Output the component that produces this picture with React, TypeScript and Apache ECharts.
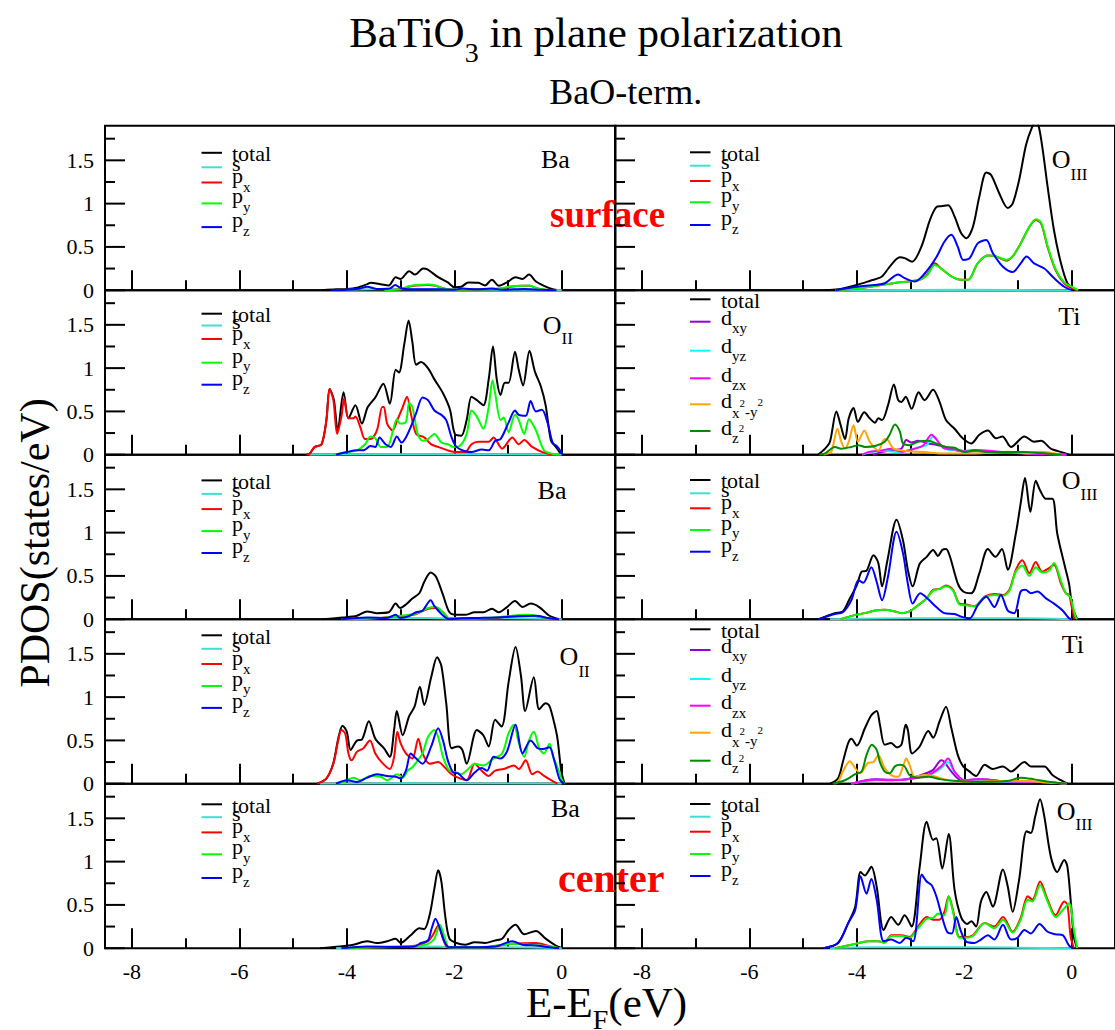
import React, { useEffect, useRef } from "react";
import * as echarts from "echarts";

// ---- axis ticks ----
const X_MIN = -8.5;
const X_MAJOR = [-8, -6, -4, -2, 0];
const X_MINOR = [-7, -5, -3, -1];
const Y_MAJOR = [0, 0.5, 1, 1.5];
const Y_MINOR = [0.25, 0.75, 1.25, 1.75];

// ---- PDOS data: [E - E_F (eV), states/eV] ----
// Ba, surface layer
const baS_total = [[-4.45,0],[-4.2,0.01],[-4.0,0.015],[-3.81,0.03],[-3.62,0.07],[-3.56,0.085],[-3.37,0.07],[-3.22,0.055],[-3.09,0.15],[-3.0,0.13],[-2.84,0.22],[-2.73,0.18],[-2.58,0.25],[-2.5,0.24],[-2.3,0.15],[-2.12,0.09],[-2.0,0.035],[-1.87,0.04],[-1.74,0.09],[-1.55,0.085],[-1.43,0.055],[-1.3,0.12],[-1.17,0.05],[-1.02,0.09],[-0.86,0.15],[-0.73,0.13],[-0.61,0.18],[-0.48,0.1],[-0.33,0.05],[-0.17,0.01],[-0.05,0]];
const baS_s = [[-4.2,0],[-3.5,0.01],[-2.5,0.01],[-1.5,0.005],[-0.5,0.005],[0,0]];
const baS_px = [[-3.3,0],[-3.0,0.01],[-2.85,0.04],[-2.7,0.055],[-2.5,0.06],[-2.35,0.05],[-2.2,0.02],[-2.0,0.005],[-1.5,0.01],[-1.1,0.02],[-0.95,0.04],[-0.75,0.05],[-0.6,0.05],[-0.45,0.02],[-0.3,0.005],[-0.1,0]];
const baS_py = [[-3.3,0],[-3.0,0.01],[-2.85,0.045],[-2.7,0.06],[-2.5,0.065],[-2.35,0.055],[-2.2,0.02],[-2.0,0.005],[-1.5,0.01],[-1.1,0.025],[-0.95,0.045],[-0.75,0.05],[-0.6,0.055],[-0.45,0.02],[-0.3,0.005],[-0.1,0]];
const baS_pz = [[-4.3,0],[-4.0,0.005],[-3.75,0.02],[-3.62,0.04],[-3.45,0.015],[-3.2,0.02],[-3.1,0.06],[-2.98,0.02],[-2.7,0.01],[-2.3,0.01],[-2.0,0.005],[-1.85,0.02],[-1.6,0.01],[-1.3,0.02],[-1.1,0.005],[-0.7,0.015],[-0.4,0.005],[-0.1,0]];

// O_III, surface layer
const o3S_total = [[-4.6,0],[-4.34,0.01],[-4.0,0.06],[-3.75,0.11],[-3.54,0.155],[-3.39,0.27],[-3.2,0.38],[-3.11,0.37],[-2.97,0.33],[-2.8,0.5],[-2.64,0.81],[-2.52,0.96],[-2.43,0.97],[-2.3,0.98],[-2.18,0.85],[-2.06,0.66],[-1.96,0.6],[-1.84,0.73],[-1.72,1.08],[-1.59,1.36],[-1.5,1.33],[-1.35,1.12],[-1.19,0.95],[-1.1,1.0],[-0.98,1.27],[-0.85,1.68],[-0.74,1.88],[-0.67,1.95],[-0.61,1.88],[-0.54,1.62],[-0.45,1.2],[-0.33,0.69],[-0.2,0.31],[-0.08,0.08],[0.04,0.02],[0.12,0]];
const o3S_s = [[-4.4,0],[-2,0.005],[0,0]];
const o3S_px = [[-4.4,0],[-4.0,0.02],[-3.54,0.06],[-3.23,0.09],[-2.83,0.12],[-2.68,0.19],[-2.55,0.31],[-2.43,0.25],[-2.24,0.16],[-2.06,0.12],[-1.93,0.12],[-1.75,0.31],[-1.56,0.4],[-1.41,0.39],[-1.22,0.34],[-1.1,0.39],[-0.95,0.54],[-0.79,0.73],[-0.67,0.81],[-0.57,0.77],[-0.45,0.5],[-0.3,0.23],[-0.14,0.08],[0.01,0.02],[0.1,0]];
const o3S_py = [[-4.4,0],[-4.0,0.02],[-3.54,0.06],[-3.23,0.09],[-2.83,0.12],[-2.68,0.18],[-2.55,0.29],[-2.43,0.25],[-2.24,0.16],[-2.06,0.12],[-1.93,0.12],[-1.75,0.31],[-1.56,0.4],[-1.41,0.39],[-1.22,0.35],[-1.1,0.39],[-0.95,0.54],[-0.79,0.73],[-0.67,0.82],[-0.57,0.78],[-0.45,0.51],[-0.3,0.24],[-0.14,0.09],[0.03,0.03],[0.12,0]];
const o3S_pz = [[-4.4,0],[-4.0,0.04],[-3.66,0.06],[-3.48,0.08],[-3.23,0.18],[-3.11,0.14],[-2.92,0.1],[-2.74,0.19],[-2.52,0.38],[-2.37,0.56],[-2.24,0.64],[-2.12,0.5],[-2.02,0.35],[-1.9,0.37],[-1.75,0.54],[-1.59,0.58],[-1.47,0.43],[-1.28,0.27],[-1.1,0.21],[-0.95,0.31],[-0.84,0.39],[-0.7,0.31],[-0.51,0.25],[-0.33,0.14],[-0.14,0.04],[0.01,0]];

// O_II, subsurface layer
const o2S_total = [[-4.75,0],[-4.69,0.01],[-4.6,0.09],[-4.47,0.12],[-4.38,0.4],[-4.32,0.76],[-4.24,0.63],[-4.17,0.28],[-4.06,0.72],[-3.97,0.42],[-3.84,0.57],[-3.72,0.36],[-3.61,0.55],[-3.47,0.66],[-3.32,0.82],[-3.2,0.59],[-3.09,0.98],[-3.03,0.95],[-2.93,1.28],[-2.85,1.55],[-2.78,1.3],[-2.71,1.04],[-2.62,1.07],[-2.49,1.0],[-2.37,0.87],[-2.21,0.71],[-2.08,0.52],[-1.99,0.24],[-1.87,0.22],[-1.77,0.4],[-1.68,0.67],[-1.58,0.63],[-1.46,0.57],[-1.36,0.87],[-1.28,1.25],[-1.21,0.87],[-1.14,0.69],[-1.06,0.83],[-0.99,0.83],[-0.87,1.19],[-0.8,0.98],[-0.72,0.8],[-0.6,1.2],[-0.5,0.96],[-0.39,0.79],[-0.3,0.57],[-0.2,0.16],[-0.11,0.09],[-0.01,0]];
const o2S_s = [[-4.7,0],[-3,0.005],[0,0]];
const o2S_px = [[-4.75,0],[-4.69,0.01],[-4.6,0.09],[-4.47,0.12],[-4.38,0.4],[-4.32,0.76],[-4.25,0.63],[-4.18,0.24],[-4.1,0.44],[-4.05,0.65],[-3.97,0.42],[-3.88,0.42],[-3.84,0.44],[-3.75,0.32],[-3.66,0.18],[-3.56,0.18],[-3.44,0.28],[-3.34,0.55],[-3.31,0.55],[-3.25,0.36],[-3.15,0.28],[-3.06,0.4],[-2.96,0.55],[-2.88,0.67],[-2.81,0.48],[-2.71,0.24],[-2.56,0.2],[-2.43,0.12],[-2.3,0.09],[-2.12,0.05],[-1.96,0.03],[-1.8,0.03],[-1.68,0.12],[-1.55,0.15],[-1.36,0.15],[-1.27,0.2],[-1.11,0.07],[-0.92,0.2],[-0.8,0.12],[-0.7,0.17],[-0.55,0.09],[-0.36,0.03],[-0.17,0]];
const o2S_py = [[-4.25,0],[-4.0,0.03],[-3.81,0.05],[-3.66,0.12],[-3.56,0.21],[-3.47,0.19],[-3.37,0.09],[-3.25,0.09],[-3.14,0.28],[-3.07,0.41],[-3.01,0.36],[-2.9,0.38],[-2.84,0.6],[-2.78,0.55],[-2.68,0.24],[-2.59,0.16],[-2.49,0.18],[-2.37,0.24],[-2.24,0.14],[-2.12,0.12],[-2.02,0.09],[-1.9,0.1],[-1.77,0.24],[-1.68,0.51],[-1.58,0.44],[-1.46,0.3],[-1.36,0.55],[-1.29,0.86],[-1.24,0.71],[-1.14,0.4],[-1.08,0.43],[-0.99,0.26],[-0.87,0.46],[-0.8,0.4],[-0.7,0.24],[-0.61,0.41],[-0.48,0.28],[-0.33,0.05],[-0.17,0.01],[-0.04,0]];
const o2S_pz = [[-4.2,0],[-4.0,0.03],[-3.81,0.05],[-3.69,0.05],[-3.56,0.1],[-3.47,0.09],[-3.39,0.2],[-3.28,0.12],[-3.18,0.09],[-3.07,0.21],[-2.98,0.14],[-2.9,0.2],[-2.81,0.32],[-2.71,0.48],[-2.59,0.66],[-2.49,0.63],[-2.37,0.51],[-2.24,0.46],[-2.15,0.4],[-2.05,0.2],[-1.96,0.09],[-1.8,0.04],[-1.68,0.03],[-1.49,0.06],[-1.36,0.05],[-1.24,0.16],[-1.14,0.18],[-0.99,0.37],[-0.87,0.51],[-0.8,0.46],[-0.67,0.45],[-0.58,0.62],[-0.48,0.5],[-0.37,0.52],[-0.26,0.36],[-0.17,0.14],[-0.08,0.09],[0.02,0]];

// Ti, subsurface layer
const tiS_total = [[-4.72,0],[-4.59,0.07],[-4.5,0.15],[-4.38,0.5],[-4.3,0.34],[-4.22,0.18],[-4.15,0.42],[-4.06,0.54],[-3.98,0.38],[-3.86,0.49],[-3.76,0.42],[-3.66,0.37],[-3.6,0.42],[-3.53,0.4],[-3.42,0.57],[-3.31,0.81],[-3.23,0.63],[-3.17,0.61],[-3.09,0.67],[-2.98,0.53],[-2.85,0.72],[-2.74,0.63],[-2.58,0.75],[-2.46,0.61],[-2.34,0.4],[-2.18,0.3],[-2.03,0.19],[-1.87,0.13],[-1.72,0.23],[-1.56,0.28],[-1.41,0.19],[-1.29,0.21],[-1.13,0.09],[-0.88,0.21],[-0.7,0.15],[-0.57,0.16],[-0.39,0.07],[-0.14,0.02],[-0.05,0]];
const tiS_dxy = [[-3.7,0],[-3.54,0.03],[-3.36,0.05],[-3.17,0.07],[-3.08,0.17],[-2.98,0.14],[-2.86,0.16],[-2.67,0.13],[-2.49,0.11],[-2.3,0.08],[-2.06,0.04],[-1.81,0.05],[-1.5,0.03],[-1.0,0.02],[-0.5,0.01],[-0.1,0]];
const tiS_dyz = [[-3.9,0],[-3.73,0.03],[-3.48,0.045],[-3.23,0.03],[-3.05,0.05],[-2.83,0.09],[-2.7,0.11],[-2.58,0.21],[-2.49,0.15],[-2.37,0.07],[-2.18,0.05],[-1.81,0.04],[-1.19,0.03],[-0.6,0.01],[-0.1,0]];
const tiS_dzx = [[-3.9,0],[-3.79,0.03],[-3.54,0.05],[-3.36,0.07],[-3.17,0.035],[-2.92,0.07],[-2.76,0.11],[-2.61,0.23],[-2.52,0.18],[-2.39,0.08],[-2.18,0.06],[-1.93,0.035],[-1.69,0.05],[-1.3,0.03],[-0.7,0.01],[-0.1,0]];
const tiS_dx2y2 = [[-4.62,0],[-4.53,0.015],[-4.47,0.035],[-4.36,0.3],[-4.29,0.15],[-4.22,0.07],[-4.15,0.15],[-4.06,0.34],[-3.98,0.15],[-3.86,0.28],[-3.76,0.15],[-3.6,0.05],[-3.48,0.18],[-3.42,0.17],[-3.32,0.07],[-3.17,0.05],[-3.05,0.04],[-2.74,0.03],[-2.43,0.015],[-1.81,0.015],[-1.19,0.035],[-0.82,0.015],[-0.57,0.035],[-0.2,0]];
const tiS_dz2 = [[-4.7,0],[-4.59,0.015],[-4.41,0.09],[-4.29,0.07],[-4.1,0.09],[-3.97,0.11],[-3.85,0.09],[-3.66,0.1],[-3.48,0.15],[-3.39,0.23],[-3.29,0.35],[-3.2,0.27],[-3.14,0.13],[-3.02,0.11],[-2.86,0.15],[-2.67,0.16],[-2.49,0.12],[-2.34,0.09],[-2.18,0.08],[-2.0,0.03],[-1.81,0.05],[-1.56,0.03],[-1.19,0.03],[-0.88,0.03],[-0.57,0.02],[-0.2,0]];

// Ba, middle layer
const baM_total = [[-4.45,0],[-4.06,0.02],[-3.81,0.04],[-3.62,0.09],[-3.44,0.07],[-3.22,0.08],[-3.09,0.18],[-3.01,0.13],[-2.9,0.17],[-2.78,0.24],[-2.65,0.3],[-2.56,0.43],[-2.44,0.54],[-2.34,0.49],[-2.21,0.28],[-2.09,0.08],[-1.96,0.05],[-1.8,0.05],[-1.62,0.08],[-1.46,0.08],[-1.3,0.12],[-1.17,0.08],[-1.02,0.14],[-0.87,0.21],[-0.73,0.14],[-0.58,0.18],[-0.42,0.14],[-0.23,0.04],[-0.04,0]];
const baM_s = [[-4.1,0],[-3.5,0.015],[-2.5,0.015],[-2.0,0.005],[-1,0.01],[0,0]];
const baM_px = [[-4.0,0],[-3.37,0.015],[-3.09,0.035],[-2.9,0.04],[-2.71,0.06],[-2.49,0.12],[-2.34,0.13],[-2.21,0.08],[-2.09,0.01],[-1.87,0.01],[-1.24,0.015],[-0.92,0.035],[-0.61,0.045],[-0.36,0.02],[-0.1,0]];
const baM_py = [[-4.0,0],[-3.37,0.015],[-3.09,0.035],[-2.9,0.045],[-2.71,0.065],[-2.49,0.13],[-2.34,0.14],[-2.21,0.08],[-2.09,0.01],[-1.87,0.01],[-1.24,0.02],[-0.92,0.04],[-0.61,0.05],[-0.36,0.02],[-0.1,0]];
const baM_pz = [[-4.1,0],[-3.62,0.02],[-3.25,0.015],[-3.09,0.05],[-3.01,0.015],[-2.87,0.03],[-2.71,0.08],[-2.59,0.1],[-2.44,0.22],[-2.37,0.15],[-2.24,0.06],[-2.09,0],[-1.87,0.01],[-1.55,0.015],[-1.24,0.02],[-0.92,0.03],[-0.48,0.04],[-0.23,0.01],[-0.05,0]];

// O_III, middle layer
const o3M_total = [[-4.71,0],[-4.41,0.07],[-4.26,0.09],[-4.13,0.24],[-4.0,0.39],[-3.91,0.55],[-3.82,0.56],[-3.69,0.74],[-3.6,0.65],[-3.53,0.38],[-3.43,0.68],[-3.26,1.15],[-3.14,0.91],[-3.05,0.57],[-2.96,0.38],[-2.83,0.64],[-2.7,0.72],[-2.58,0.8],[-2.49,0.73],[-2.41,0.8],[-2.34,0.81],[-2.27,0.73],[-2.12,0.41],[-2.02,0.32],[-1.87,0.3],[-1.72,0.53],[-1.56,0.81],[-1.42,0.72],[-1.3,0.81],[-1.19,0.57],[-1.04,0.99],[-0.95,1.34],[-0.87,1.63],[-0.77,1.24],[-0.67,1.6],[-0.59,1.49],[-0.48,1.39],[-0.36,1.39],[-0.27,0.99],[-0.14,0.64],[-0.05,0.41],[0.01,0.14],[0.1,0]];
const o3M_s = [[-4.5,0],[-3,0.01],[-1,0.01],[0,0]];
const o3M_px = [[-4.3,0],[-4.03,0.05],[-3.85,0.07],[-3.66,0.1],[-3.48,0.11],[-3.29,0.09],[-3.17,0.07],[-3.02,0.09],[-2.86,0.16],[-2.7,0.24],[-2.58,0.34],[-2.46,0.35],[-2.34,0.39],[-2.21,0.34],[-2.09,0.18],[-1.97,0.17],[-1.81,0.15],[-1.62,0.26],[-1.44,0.29],[-1.28,0.28],[-1.16,0.34],[-1.04,0.57],[-0.92,0.68],[-0.79,0.53],[-0.67,0.66],[-0.55,0.55],[-0.42,0.59],[-0.33,0.63],[-0.2,0.41],[-0.11,0.3],[-0.05,0.28],[0.0,0.14],[0.05,0]];
const o3M_py = [[-4.3,0],[-4.03,0.05],[-3.85,0.07],[-3.66,0.1],[-3.48,0.11],[-3.29,0.09],[-3.17,0.07],[-3.02,0.09],[-2.86,0.16],[-2.7,0.24],[-2.58,0.33],[-2.46,0.35],[-2.34,0.38],[-2.21,0.33],[-2.09,0.17],[-1.97,0.16],[-1.81,0.15],[-1.62,0.25],[-1.44,0.28],[-1.28,0.27],[-1.16,0.33],[-1.04,0.55],[-0.92,0.62],[-0.79,0.5],[-0.67,0.6],[-0.55,0.54],[-0.42,0.56],[-0.33,0.65],[-0.2,0.44],[-0.11,0.3],[-0.03,0.26],[0.01,0.18],[0.07,0.03],[0.1,0]];
const o3M_pz = [[-4.71,0],[-4.41,0.06],[-4.26,0.08],[-4.1,0.22],[-3.97,0.45],[-3.88,0.42],[-3.73,0.6],[-3.63,0.43],[-3.53,0.22],[-3.42,0.49],[-3.26,1.01],[-3.14,0.76],[-3.05,0.41],[-2.96,0.18],[-2.82,0.3],[-2.67,0.23],[-2.52,0.14],[-2.37,0.07],[-2.18,0.06],[-2.06,0.03],[-1.9,0.01],[-1.75,0.16],[-1.59,0.26],[-1.44,0.14],[-1.32,0.28],[-1.19,0.1],[-1.07,0.07],[-0.95,0.32],[-0.86,0.34],[-0.76,0.3],[-0.64,0.32],[-0.48,0.24],[-0.33,0.18],[-0.17,0.1],[-0.05,0.01],[0.0,0]];

// O_II, middle layer
const o2M_total = [[-4.55,0],[-4.38,0.06],[-4.25,0.24],[-4.16,0.52],[-4.08,0.67],[-4.0,0.6],[-3.93,0.39],[-3.81,0.5],[-3.72,0.51],[-3.59,0.72],[-3.47,0.52],[-3.31,0.41],[-3.2,0.31],[-3.12,0.62],[-3.07,0.84],[-2.96,0.56],[-2.84,0.78],[-2.74,0.89],[-2.64,1.12],[-2.56,0.91],[-2.43,1.23],[-2.32,1.46],[-2.24,1.36],[-2.15,0.93],[-2.05,0.41],[-1.93,0.43],[-1.85,0.39],[-1.77,0.23],[-1.58,0.62],[-1.46,0.56],[-1.36,0.43],[-1.24,0.74],[-1.12,0.66],[-0.99,1.17],[-0.86,1.58],[-0.76,1.25],[-0.68,0.84],[-0.52,1.23],[-0.42,0.86],[-0.3,0.93],[-0.23,0.9],[-0.14,0.7],[-0.08,0.52],[-0.01,0.15],[0.05,0]];
const o2M_s = [[-4.5,0],[-3,0.005],[0,0]];
const o2M_px = [[-4.55,0],[-4.38,0.06],[-4.25,0.23],[-4.16,0.5],[-4.1,0.62],[-4.03,0.58],[-3.97,0.35],[-3.91,0.27],[-3.81,0.37],[-3.69,0.41],[-3.57,0.5],[-3.47,0.35],[-3.34,0.24],[-3.2,0.17],[-3.12,0.31],[-3.06,0.6],[-3.0,0.47],[-2.9,0.35],[-2.78,0.29],[-2.67,0.52],[-2.59,0.35],[-2.46,0.23],[-2.3,0.25],[-2.18,0.19],[-2.05,0.11],[-1.93,0.07],[-1.77,0.04],[-1.62,0.23],[-1.49,0.15],[-1.36,0.09],[-1.24,0.15],[-1.08,0.17],[-0.89,0.21],[-0.8,0.17],[-0.67,0.27],[-0.55,0.11],[-0.45,0.14],[-0.33,0.09],[-0.2,0.04],[-0.08,0]];
const o2M_py = [[-4.2,0],[-4.0,0.04],[-3.88,0.07],[-3.75,0.04],[-3.56,0.09],[-3.37,0.08],[-3.25,0.04],[-3.06,0.11],[-2.96,0.07],[-2.87,0.15],[-2.78,0.19],[-2.68,0.27],[-2.59,0.35],[-2.49,0.54],[-2.37,0.62],[-2.3,0.54],[-2.21,0.31],[-2.09,0.15],[-1.96,0.13],[-1.87,0.11],[-1.74,0.17],[-1.62,0.23],[-1.46,0.21],[-1.27,0.29],[-1.11,0.35],[-0.99,0.58],[-0.89,0.68],[-0.8,0.47],[-0.7,0.31],[-0.61,0.5],[-0.52,0.6],[-0.42,0.41],[-0.33,0.35],[-0.23,0.46],[-0.16,0.31],[-0.08,0.19],[0.02,0.02],[0.06,0]];
const o2M_pz = [[-4.2,0],[-4.0,0.04],[-3.81,0.02],[-3.62,0.07],[-3.44,0.11],[-3.25,0.09],[-3.09,0.08],[-3.0,0.06],[-2.9,0.15],[-2.81,0.35],[-2.71,0.29],[-2.59,0.23],[-2.43,0.43],[-2.3,0.64],[-2.21,0.5],[-2.12,0.27],[-2.02,0.13],[-1.93,0.12],[-1.77,0.04],[-1.62,0.13],[-1.49,0.18],[-1.39,0.15],[-1.27,0.31],[-1.14,0.29],[-1.02,0.37],[-0.86,0.68],[-0.73,0.35],[-0.58,0.5],[-0.45,0.41],[-0.35,0.4],[-0.23,0.42],[-0.14,0.27],[-0.04,0.05],[0.05,0]];

// Ti, middle layer
const tiM_total = [[-4.5,0],[-4.35,0.06],[-4.26,0.25],[-4.16,0.47],[-4.1,0.52],[-4.0,0.44],[-3.85,0.64],[-3.73,0.79],[-3.63,0.84],[-3.57,0.68],[-3.48,0.45],[-3.36,0.47],[-3.26,0.42],[-3.17,0.45],[-3.09,0.68],[-3.05,0.62],[-2.97,0.35],[-2.83,0.43],[-2.67,0.61],[-2.58,0.53],[-2.46,0.72],[-2.34,0.89],[-2.24,0.64],[-2.12,0.33],[-2.02,0.2],[-1.9,0.14],[-1.78,0.09],[-1.62,0.22],[-1.47,0.17],[-1.28,0.2],[-1.13,0.14],[-0.88,0.25],[-0.76,0.2],[-0.51,0.2],[-0.36,0.1],[-0.2,0.04],[-0.08,0]];
const tiM_dxy = [[-4.1,0],[-3.66,0.05],[-3.36,0.045],[-3.05,0.055],[-2.8,0.1],[-2.58,0.16],[-2.43,0.27],[-2.37,0.25],[-2.24,0.14],[-2.06,0.04],[-1.69,0.05],[-1.2,0.025],[-0.6,0.02],[-0.1,0]];
const tiM_dyz = [[-4.1,0],[-3.66,0.04],[-3.36,0.04],[-3.05,0.05],[-2.8,0.08],[-2.58,0.12],[-2.43,0.18],[-2.3,0.25],[-2.18,0.13],[-2.0,0.04],[-1.69,0.045],[-1.2,0.02],[-0.6,0.02],[-0.1,0]];
const tiM_dzx = [[-4.1,0],[-3.66,0.045],[-3.36,0.04],[-3.05,0.05],[-2.67,0.1],[-2.43,0.2],[-2.3,0.29],[-2.18,0.14],[-2.0,0.04],[-1.69,0.05],[-1.2,0.025],[-0.6,0.02],[-0.1,0]];
const tiM_dx2y2 = [[-4.42,0],[-4.35,0.02],[-4.26,0.14],[-4.13,0.26],[-4.03,0.18],[-3.94,0.12],[-3.79,0.24],[-3.69,0.25],[-3.6,0.33],[-3.48,0.18],[-3.36,0.1],[-3.23,0.08],[-3.14,0.2],[-3.08,0.29],[-3.02,0.22],[-2.92,0.08],[-2.74,0.1],[-2.58,0.09],[-2.43,0.06],[-2.18,0.03],[-1.81,0.02],[-1.19,0.035],[-0.57,0.02],[-0.1,0]];
const tiM_dz2 = [[-4.45,0],[-4.22,0.04],[-4.03,0.11],[-3.91,0.14],[-3.82,0.33],[-3.72,0.45],[-3.63,0.39],[-3.57,0.25],[-3.48,0.14],[-3.39,0.12],[-3.29,0.2],[-3.2,0.22],[-3.11,0.2],[-3.02,0.1],[-2.86,0.07],[-2.67,0.08],[-2.43,0.05],[-2.12,0.03],[-1.81,0.02],[-1.2,0.03],[-0.94,0.07],[-0.7,0.05],[-0.4,0.02],[-0.1,0]];

// Ba, center layer
const baC_total = [[-4.5,0],[-4.13,0.02],[-3.88,0.04],[-3.62,0.08],[-3.44,0.06],[-3.25,0.08],[-3.09,0.11],[-3.0,0.06],[-2.81,0.15],[-2.65,0.23],[-2.56,0.22],[-2.46,0.38],[-2.37,0.69],[-2.3,0.9],[-2.24,0.77],[-2.17,0.38],[-2.09,0.11],[-1.96,0.06],[-1.8,0.04],[-1.62,0.07],[-1.43,0.06],[-1.24,0.09],[-1.11,0.11],[-0.99,0.21],[-0.86,0.27],[-0.7,0.16],[-0.48,0.2],[-0.3,0.11],[-0.11,0.03],[0.02,0]];
const baC_s = [[-4.2,0],[-3.5,0.01],[-2.3,0.02],[-2.0,0.005],[-1,0.01],[0,0]];
const baC_px = [[-4.1,0],[-3.5,0.01],[-3.0,0.02],[-2.7,0.03],[-2.49,0.08],[-2.4,0.15],[-2.3,0.26],[-2.21,0.11],[-2.12,0.01],[-1.5,0.01],[-0.92,0.05],[-0.48,0.06],[-0.2,0.02],[-0.05,0]];
const baC_py = [[-4.1,0],[-3.5,0.01],[-3.0,0.02],[-2.7,0.025],[-2.49,0.05],[-2.37,0.11],[-2.27,0.27],[-2.18,0.13],[-2.09,0.01],[-1.5,0.01],[-0.92,0.05],[-0.61,0.04],[-0.2,0.02],[-0.05,0]];
const baC_pz = [[-4.1,0],[-3.62,0.02],[-3.0,0.015],[-2.74,0.02],[-2.62,0.06],[-2.49,0.09],[-2.42,0.23],[-2.35,0.34],[-2.27,0.23],[-2.18,0.07],[-2.09,0.01],[-1.24,0.02],[-0.92,0.08],[-0.73,0.04],[-0.48,0.03],[-0.23,0.01],[-0.05,0]];

// O_III, center layer
const o3C_total = [[-4.62,0],[-4.35,0.06],[-4.16,0.29],[-4.03,0.48],[-3.93,0.88],[-3.85,0.84],[-3.73,0.94],[-3.63,0.71],[-3.5,0.21],[-3.36,0.36],[-3.23,0.27],[-3.11,0.38],[-2.98,0.25],[-2.83,0.94],[-2.7,1.46],[-2.58,1.25],[-2.52,1.27],[-2.41,0.92],[-2.29,1.32],[-2.18,0.67],[-2.06,0.36],[-1.95,0.28],[-1.87,0.31],[-1.78,0.25],[-1.69,0.54],[-1.59,0.65],[-1.47,0.48],[-1.28,0.91],[-1.19,0.71],[-1.1,0.42],[-0.98,0.79],[-0.84,1.35],[-0.76,1.33],[-0.68,1.52],[-0.59,1.72],[-0.51,1.52],[-0.39,1.06],[-0.27,0.88],[-0.14,1.02],[-0.08,0.94],[-0.01,0.48],[0.04,0.13],[0.1,0]];
const o3C_s = [[-4.5,0],[-3.8,0.01],[-2,0.01],[0,0]];
const o3C_px = [[-4.4,0],[-4.03,0.05],[-3.79,0.08],[-3.6,0.08],[-3.48,0.065],[-3.36,0.15],[-3.17,0.15],[-3.02,0.13],[-2.86,0.25],[-2.7,0.36],[-2.58,0.33],[-2.46,0.33],[-2.37,0.42],[-2.29,0.6],[-2.21,0.44],[-2.09,0.13],[-1.97,0.13],[-1.84,0.15],[-1.62,0.29],[-1.44,0.25],[-1.28,0.36],[-1.1,0.19],[-0.95,0.35],[-0.82,0.6],[-0.73,0.56],[-0.59,0.77],[-0.45,0.56],[-0.3,0.38],[-0.14,0.54],[-0.08,0.5],[-0.02,0.13],[0.04,0]];
const o3C_py = [[-4.4,0],[-4.03,0.05],[-3.79,0.08],[-3.6,0.08],[-3.48,0.065],[-3.36,0.14],[-3.17,0.14],[-3.02,0.12],[-2.86,0.23],[-2.7,0.34],[-2.58,0.35],[-2.49,0.4],[-2.37,0.38],[-2.29,0.6],[-2.21,0.42],[-2.09,0.12],[-1.97,0.12],[-1.84,0.14],[-1.62,0.29],[-1.44,0.23],[-1.28,0.33],[-1.1,0.18],[-0.95,0.33],[-0.82,0.56],[-0.73,0.54],[-0.59,0.73],[-0.45,0.54],[-0.3,0.36],[-0.14,0.46],[-0.05,0.52],[0.04,0.21],[0.1,0]];
const o3C_pz = [[-4.62,0],[-4.35,0.06],[-4.16,0.29],[-4.03,0.44],[-3.93,0.83],[-3.82,0.63],[-3.73,0.8],[-3.63,0.56],[-3.5,0.08],[-3.36,0.1],[-3.2,0.06],[-3.08,0.12],[-2.95,0.08],[-2.79,0.85],[-2.7,0.77],[-2.61,0.73],[-2.52,0.6],[-2.43,0.4],[-2.32,0.19],[-2.23,0.17],[-2.15,0.36],[-2.07,0.21],[-1.97,0.08],[-1.81,0.06],[-1.69,0.1],[-1.56,0.15],[-1.44,0.1],[-1.28,0.27],[-1.13,0.1],[-1.01,0.12],[-0.88,0.21],[-0.76,0.17],[-0.6,0.28],[-0.45,0.19],[-0.3,0.16],[-0.17,0.15],[-0.05,0.03],[0.02,0]];

// ---- styling ----
const SERIF = "Liberation Serif, Times New Roman, serif";
const C = {
  total: "#000000",
  s: "#40e0d0",
  px: "#ff0000",
  py: "#00ff00",
  pz: "#0000ff",
  dxy: "#9400d3",
  dyz: "#00ffff",
  dzx: "#ff00ff",
  dx2y2: "#ffa500",
  dz2: "#008b00",
};

type Frag = { t: string; size: number; dy?: number; dx?: number };

const measureCtx = document.createElement("canvas").getContext("2d") as CanvasRenderingContext2D;
function textWidth(t: string, size: number, bold: boolean) {
  measureCtx.font = `${bold ? "bold " : ""}${size}px ${SERIF}`;
  return measureCtx.measureText(t).width;
}

// Lays out a run of text fragments on a shared baseline (sub/superscripts via dy).
function textRun(
  x: number,
  baseline: number,
  frags: Frag[],
  opt: { align?: "left" | "center"; color?: string; bold?: boolean } = {}
) {
  const bold = !!opt.bold;
  const widths = frags.map((f) => textWidth(f.t, f.size, bold) + (f.dx || 0));
  const total = widths.reduce((a, b) => a + b, 0);
  let cx = opt.align === "center" ? x - total / 2 : x;
  return frags.map((f, i) => {
    const el = {
      type: "text",
      x: cx + (f.dx || 0),
      y: baseline + (f.dy || 0) - 0.3375 * f.size,
      silent: true,
      style: {
        text: f.t,
        font: `${bold ? "bold " : ""}${f.size}px ${SERIF}`,
        fill: opt.color || "#000",
        textAlign: "left",
        textVerticalAlign: "middle",
      },
    };
    cx += widths[i];
    return el;
  });
}

const LEG = 22;
const SUB = 15;
const SUP = 11;
type LegItem = { key: keyof typeof C; frags: Frag[]; base: number };
const pItems: LegItem[] = [
  { key: "total", frags: [{ t: "total", size: LEG }], base: 8.4 },
  { key: "s", frags: [{ t: "s", size: LEG }], base: 3.4 },
  { key: "px", frags: [{ t: "p", size: LEG }, { t: "x", size: SUB, dy: 9.5 }], base: 0.5 },
  { key: "py", frags: [{ t: "p", size: LEG }, { t: "y", size: SUB, dy: 8.5 }], base: 0 },
  { key: "pz", frags: [{ t: "p", size: LEG }, { t: "z", size: SUB, dy: 9 }], base: 0 },
];
const dItems: LegItem[] = [
  { key: "total", frags: [{ t: "total", size: LEG }], base: 8.7 },
  { key: "dxy", frags: [{ t: "d", size: LEG }, { t: "xy", size: SUB, dy: 8 }], base: 3.3 },
  { key: "dyz", frags: [{ t: "d", size: LEG }, { t: "yz", size: SUB, dy: 8 }], base: 2.6 },
  { key: "dzx", frags: [{ t: "d", size: LEG }, { t: "zx", size: SUB, dy: 8.5 }], base: 3.4 },
  {
    key: "dx2y2",
    frags: [
      { t: "d", size: LEG },
      { t: "x", size: SUB, dy: 10 },
      { t: "2", size: SUP, dy: -2 },
      { t: "-y", size: SUB, dy: 9 },
      { t: "2", size: SUP, dy: -3 },
    ],
    base: 4,
  },
  {
    key: "dz2",
    frags: [
      { t: "d", size: LEG },
      { t: "z", size: SUB, dy: 8 },
      { t: "2", size: SUP, dy: -3.3 },
    ],
    base: 4,
  },
];

// ---- layout ----
const ROW_TOP = [125.7, 290.2, 454.7, 619.2, 783.7];
const ROW_H = 164.5;
const COL_LEFT = [105, 615];
// right column runs past the page edge, so its right frame is cut off
const COL_W = [510.5, 502];
const X_MAX = [1, 0.805];
const Y_MAX = 1.9;

type Panel = {
  row: number;
  col: number;
  kind: "p" | "d";
  series: Record<string, number[][]>;
  label: { x: number; base: number; main: string; sub?: string; subDy?: number };
  legendY: number[];
};

const PANELS: Panel[] = [
  { row: 0, col: 0, kind: "p", series: { total: baS_total, s: baS_s, px: baS_px, py: baS_py, pz: baS_pz },
    label: { x: 541, base: 168.3, main: "Ba" }, legendY: [152.8, 167.3, 182.5, 203.4, 227.1] },
  { row: 0, col: 1, kind: "p", series: { total: o3S_total, s: o3S_s, px: o3S_px, py: o3S_py, pz: o3S_pz },
    label: { x: 1051.7, base: 168.3, main: "O", sub: "III", subDy: 11.7 }, legendY: [152.3, 165.7, 181, 202.3, 225] },
  { row: 1, col: 0, kind: "p", series: { total: o2S_total, s: o2S_s, px: o2S_px, py: o2S_py, pz: o2S_pz },
    label: { x: 542.7, base: 334, main: "O", sub: "II", subDy: 10 }, legendY: [313.7, 325.5, 339, 362.7, 384.7] },
  { row: 1, col: 1, kind: "d", series: { total: tiS_total, dxy: tiS_dxy, dyz: tiS_dyz, dzx: tiS_dzx, dx2y2: tiS_dx2y2, dz2: tiS_dz2 },
    label: { x: 1058.3, base: 325.7, main: "Ti" }, legendY: [299.3, 321.7, 350.7, 378.3, 404.3, 431] },
  { row: 2, col: 0, kind: "p", series: { total: baM_total, s: baM_s, px: baM_px, py: baM_py, pz: baM_pz },
    label: { x: 537.6, base: 499, main: "Ba" }, legendY: [480.4, 493.9, 509.1, 531.1, 553] },
  { row: 2, col: 1, kind: "p", series: { total: o3M_total, s: o3M_s, px: o3M_px, py: o3M_py, pz: o3M_pz },
    label: { x: 1061.7, base: 489.3, main: "O", sub: "III", subDy: 10.7 }, legendY: [480, 493.3, 508.3, 530, 551.7] },
  { row: 3, col: 0, kind: "p", series: { total: o2M_total, s: o2M_s, px: o2M_px, py: o2M_py, pz: o2M_pz },
    label: { x: 559.6, base: 665.7, main: "O", sub: "II", subDy: 11.8 }, legendY: [635.3, 648.8, 664, 686, 707.9] },
  { row: 3, col: 1, kind: "d", series: { total: tiM_total, dxy: tiM_dxy, dyz: tiM_dyz, dzx: tiM_dzx, dx2y2: tiM_dx2y2, dz2: tiM_dz2 },
    label: { x: 1061.7, base: 653.3, main: "Ti" }, legendY: [629.3, 650, 679, 705.7, 732.7, 760.7] },
  { row: 4, col: 0, kind: "p", series: { total: baC_total, s: baC_s, px: baC_px, py: baC_py, pz: baC_pz },
    label: { x: 551, base: 817, main: "Ba" }, legendY: [804.3, 817.2, 832.4, 854.3, 878] },
  { row: 4, col: 1, kind: "p", series: { total: o3C_total, s: o3C_s, px: o3C_px, py: o3C_py, pz: o3C_pz },
    label: { x: 1056.7, base: 820, main: "O", sub: "III", subDy: 10 }, legendY: [804, 816.7, 831.7, 854, 876] },
];

// Inward y tick marks on each panel's left frame (same linear map as the y axis: 0..Y_MAX over the row height).
function yTickGraphics() {
  const out: any[] = [];
  PANELS.forEach((p) => {
    const x0 = COL_LEFT[p.col];
    const marks = [...Y_MAJOR.map((v) => [v, 20]), ...Y_MINOR.map((v) => [v, 10])];
    marks.forEach(([v, len]) => {
      const y = ROW_TOP[p.row] + ROW_H * (1 - v / Y_MAX);
      out.push({
        type: "rect",
        silent: true,
        z: 100,
        shape: { x: x0, y: y - 1, width: len, height: 2 },
        style: { fill: "#000" },
      });
    });
  });
  return out;
}

function buildOption() {
  const grid: any[] = [];
  const xAxis: any[] = [];
  const yAxis: any[] = [];
  const series: any[] = [];
  const graphic: any[] = [];

  const tickStyle = { color: "#000", width: 2 };
  const labelStyle = { color: "#000", fontFamily: SERIF, fontSize: 22 };

  PANELS.forEach((p, i) => {
    grid.push({
      left: COL_LEFT[p.col],
      top: ROW_TOP[p.row],
      width: COL_W[p.col],
      height: ROW_H,
      show: true,
      borderColor: "#000",
      borderWidth: 2,
      backgroundColor: "transparent",
    });
    const bottomRow = p.row === 4;
    const leftCol = p.col === 0;
    // major + minor x axes
    xAxis.push({
      type: "value", gridIndex: i, position: "bottom", min: X_MIN, max: X_MAX[p.col],
      axisLine: { show: false, onZero: false }, splitLine: { show: false },
      axisTick: { show: true, inside: true, length: 20, lineStyle: tickStyle, customValues: X_MAJOR },
      axisLabel: { show: bottomRow, customValues: X_MAJOR, margin: 12, ...labelStyle },
    });
    xAxis.push({
      type: "value", gridIndex: i, position: "bottom", min: X_MIN, max: X_MAX[p.col],
      axisLine: { show: false, onZero: false }, splitLine: { show: false },
      axisTick: { show: true, inside: true, length: 10, lineStyle: tickStyle, customValues: X_MINOR },
      axisLabel: { show: false },
    });
    // y axis carries the labels; its tick marks are the graphics from yTickGraphics()
    yAxis.push({
      type: "value", gridIndex: i, position: "left", min: 0, max: Y_MAX, interval: 0.5,
      axisLine: { show: false, onZero: false }, splitLine: { show: false },
      axisTick: { show: false },
      axisLabel: {
        show: leftCol, margin: 11, showMaxLabel: false,
        formatter: (v: number) => String(v), ...labelStyle,
      },
    });

    const items = p.kind === "p" ? pItems : dItems;
    items.forEach((it) => {
      series.push({
        type: "line",
        name: `${i}-${it.key}`,
        xAxisIndex: 2 * i,
        yAxisIndex: i,
        data: p.series[it.key],
        showSymbol: false,
        smooth: 0.3,
        clip: true,
        lineStyle: { color: C[it.key], width: 2 },
        silent: true,
      });
    });

    // legend entries
    const lx0 = p.col === 0 ? 201.5 : 690;
    const tx = p.col === 0 ? 232 : 721;
    items.forEach((it, k) => {
      const ly = p.legendY[k];
      graphic.push({
        type: "line",
        silent: true,
        shape: { x1: lx0, y1: ly, x2: lx0 + 20.5, y2: ly },
        style: { stroke: C[it.key], lineWidth: 2 },
      });
      graphic.push(...textRun(tx, ly + it.base, it.frags));
    });

    // atom label
    const lf: Frag[] = [{ t: p.label.main, size: 26 }];
    if (p.label.sub) lf.push({ t: p.label.sub, size: 17, dy: p.label.subDy });
    graphic.push(...textRun(p.label.x, p.label.base, lf));
  });

  graphic.push(...yTickGraphics());

  // titles
  graphic.push(
    ...textRun(596, 46.7, [
      { t: "BaTiO", size: 43 },
      { t: "3", size: 28, dy: 15 },
      { t: " in plane polarization", size: 43 },
    ], { align: "center" })
  );
  graphic.push(...textRun(625.7, 104.3, [{ t: "BaO-term.", size: 36 }], { align: "center" }));
  graphic.push(
    ...textRun(606.5, 1016.7, [
      { t: "E-E", size: 43 },
      { t: "F", size: 28, dy: 12 },
      { t: "(eV)", size: 43 },
    ], { align: "center" })
  );
  graphic.push({
    type: "group",
    x: 35,
    y: 543,
    rotation: Math.PI / 2,
    silent: true,
    children: textRun(0, 0.3375 * 42, [{ t: "PDOS(states/eV)", size: 42 }], { align: "center" }),
  });
  graphic.push(...textRun(550, 227.4, [{ t: "surface", size: 37 }], { color: "#ff0000", bold: true }));
  graphic.push(...textRun(558, 892, [{ t: "center", size: 40 }], { color: "#ff0000", bold: true }));

  return {
    animation: false,
    backgroundColor: "#ffffff",
    grid,
    xAxis,
    yAxis,
    series,
    graphic,
  };
}

export default function App() {
  const ref = useRef<HTMLDivElement>(null);
  useEffect(() => {
    if (!ref.current) return;
    const chart = echarts.init(ref.current, undefined, { renderer: "svg" });
    chart.setOption(buildOption() as any);
    return () => chart.dispose();
  }, []);
  return (
    <div
      ref={ref}
      style={{ position: "absolute", left: 0, top: 0, width: 1115, height: 1030, background: "#fff" }}
    />
  );
}
